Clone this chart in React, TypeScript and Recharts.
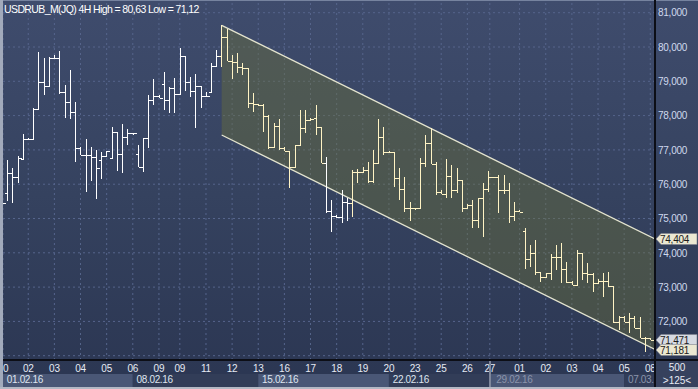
import { ComposedChart, Bar, Area, XAxis, YAxis, CartesianGrid } from "recharts";

// 4H OHLC bars (index 0 = first bar on the left)
const opens = [
  75.45, 75.74, 76.32, 76.22, 76.73, 77.31, 77.31, 78.18, 78.99, 78.87,
  79.67, 79.69, 78.68, 78.39, 78.1, 77.07, 76.85, 76.85, 76.79, 76.71,
  76.82, 76.76, 77.51, 76.88, 77.39, 77.48, 76.88, 76.49, 77.34, 78.45,
  78.57, 78.92, 78.45, 78.81, 78.62, 79.74, 78.97, 78.73, 78.86, 78.58,
  78.68, 79.45, 79.74, 80.28, 79.6, 79.56, 79.43, 79.4, 78.36, 78.34,
  78.32, 77.99, 77.08, 77.7, 77.06, 76.97, 76.51, 77.14, 77.63, 77.87,
  77.92, 77.68, 76.63, 75.23, 75.07, 75.04, 75.49, 75.46, 76.35, 76.35,
  76.41, 76.1, 76.63, 77.37, 76.95, 76.95, 76.17, 75.85, 75.3, 75.3,
  75.3, 76.61, 77.19, 76.59, 75.78, 75.71, 76.24, 75.83, 76.12, 75.3,
  75.39, 74.96, 75.59, 75.85, 76.2, 76.2, 75.83, 75.82, 75.07, 75.23,
  74.64, 73.81, 74.0, 73.45, 73.3, 73.4, 73.89, 73.87, 73.52, 73.16,
  73.06, 73.99, 73.4, 73.37, 73.13, 73.18, 73.18, 73.03, 71.97, 72.14,
  71.99, 72.1, 71.8, 71.53, 71.52,
];
const highs = [
  75.57, 76.71, 76.47, 76.82, 77.46, 77.35, 78.22, 79.86, 79.68, 79.72,
  79.77, 79.88, 78.89, 79.33, 78.4, 77.09, 77.32, 77.09, 77.0, 76.95,
  76.97, 77.68, 77.52, 77.76, 77.6, 77.5, 77.14, 77.34, 78.6, 79.06,
  78.6, 79.28, 78.84, 79.09, 79.96, 79.74, 79.12, 79.21, 78.86, 78.7,
  79.54, 79.91, 80.63, 80.52, 79.77, 79.82, 79.54, 79.4, 78.67, 78.35,
  78.34, 78.02, 77.78, 77.89, 77.09, 76.97, 77.14, 78.16, 78.16, 77.92,
  78.31, 77.68, 76.8, 75.54, 75.1, 75.83, 75.6, 76.41, 76.44, 76.51,
  76.66, 77.0, 77.9, 77.66, 76.97, 76.95, 76.46, 76.22, 75.49, 75.32,
  76.76, 77.43, 77.63, 76.65, 75.83, 76.73, 76.56, 76.46, 76.12, 75.42,
  75.55, 75.59, 76.03, 76.39, 76.22, 76.27, 76.27, 76.03, 75.49, 75.26,
  74.72, 74.23, 74.37, 73.45, 73.41, 73.97, 74.23, 74.28, 73.74, 73.18,
  74.08, 74.0, 73.69, 73.4, 73.24, 73.42, 73.45, 73.03, 72.16, 72.16,
  72.25, 72.16, 72.14, 71.56, 71.53,
];
const lows = [
  75.37, 75.52, 75.45, 76.04, 76.71, 77.29, 77.3, 78.18, 78.6, 78.86,
  79.66, 78.62, 77.92, 77.89, 76.66, 76.85, 75.78, 76.09, 75.56, 76.15,
  76.82, 76.75, 76.39, 76.33, 77.14, 77.43, 76.49, 76.37, 77.05, 78.31,
  78.5, 78.16, 78.07, 78.07, 78.6, 78.73, 78.55, 77.63, 78.21, 78.58,
  78.67, 79.43, 79.43, 79.6, 79.06, 79.23, 79.18, 78.21, 78.11, 78.29,
  77.51, 77.03, 77.05, 77.0, 76.97, 75.9, 76.51, 77.14, 77.48, 77.86,
  77.43, 76.61, 75.15, 74.62, 75.01, 74.88, 74.93, 75.05, 76.03, 76.32,
  76.03, 76.03, 76.63, 76.85, 76.92, 75.93, 75.54, 75.2, 74.94, 75.26,
  75.3, 76.51, 76.59, 75.69, 75.71, 75.59, 75.59, 75.74, 75.2, 75.28,
  74.72, 74.72, 74.47, 75.78, 76.18, 75.17, 75.7, 74.86, 74.93, 75.19,
  73.52, 73.6, 73.35, 73.16, 73.3, 73.21, 73.5, 73.13, 73.13, 73.06,
  73.06, 73.21, 73.11, 72.87, 73.12, 72.72, 73.01, 71.95, 71.75, 71.98,
  71.66, 71.8, 71.51, 71.12, 71.47,
];
const closes = [
  75.45, 76.32, 76.22, 76.76, 77.31, 77.31, 78.18, 78.99, 78.87, 79.67,
  79.69, 78.68, 78.39, 78.11, 77.07, 76.85, 76.85, 76.79, 76.46, 76.82,
  76.97, 77.51, 76.88, 77.39, 77.48, 77.48, 76.49, 77.34, 78.45, 78.57,
  78.52, 78.45, 78.81, 78.62, 79.74, 78.97, 78.73, 78.86, 78.58, 78.58,
  79.45, 79.74, 80.28, 79.6, 79.56, 79.43, 79.4, 78.36, 78.34, 78.32,
  77.99, 77.08, 77.7, 77.06, 76.97, 76.51, 77.14, 77.63, 77.87, 77.9,
  77.68, 76.63, 75.23, 75.07, 75.04, 75.49, 75.46, 76.35, 76.35, 76.41,
  76.1, 76.63, 77.37, 76.95, 76.95, 76.17, 75.85, 75.3, 75.3, 75.3,
  76.61, 77.19, 76.59, 75.78, 75.71, 76.24, 75.83, 76.12, 75.3, 75.39,
  74.96, 75.59, 75.85, 76.2, 76.2, 75.83, 75.82, 75.07, 75.23, 75.2,
  73.81, 74.0, 73.45, 73.3, 73.4, 73.89, 73.87, 73.52, 73.16, 73.06,
  73.99, 73.4, 73.37, 73.13, 73.18, 73.18, 73.03, 71.97, 72.14, 71.99,
  72.1, 71.8, 71.53, 71.52, 71.471,
];

// bottom scale: day labels and week boxes (positions are bar indexes)
const dayTicks = [0.17, 5, 10, 15, 20, 25, 30, 34, 39, 44, 49, 54, 59, 64, 69, 74, 79, 84, 89, 93.3, 99, 104, 109, 114, 119, 124];
const dayLabels = ["0", "02", "03", "04", "05", "06", "09", "09", "11", "12", "13", "16", "17", "18", "19", "20", "23", "25", "26", "27", "01", "02", "03", "04", "05", "08"];
const weekTicks = [0.17, 25, 49, 74, 93.3, 119];
const weekLabels = ["01.02.16", "08.02.16", "15.02.16", "22.02.16", "29.02.16", "07.03."];

const priceTicks = [71, 72, 73, 74, 75, 76, 77, 78, 79, 80, 81];

// regression channel: anchor bar index, upper and lower edge values
const chanX = [42, 124.9];
const chanUpper = [80.63, 74.404];
const chanLower = [77.435, 71.181];

const XMIN = 0.17;
const XMAX = 124.9;
const YMIN = 70.875;
const YMAX = 81.283;
const PLOT_LEFT = 3;
const PLOT_RIGHT = 655;
const PX_PER_BAR = (PLOT_RIGHT - PLOT_LEFT) / (XMAX - XMIN);

const FONT = "'Liberation Sans', Arial, sans-serif";
const BAR_OUT = "#ffffff";
const BAR_IN = "#fff3c4";

const chanAt = (edge: number[], i: number) =>
  edge[0] + ((edge[1] - edge[0]) * (i - chanX[0])) / (chanX[1] - chanX[0]);

const rows = opens.map((o, i) => {
  const c = closes[i];
  const inChannel = i >= chanX[0] && c <= chanAt(chanUpper, i) + 0.02 && c >= chanAt(chanLower, i);
  return { i, o, h: highs[i], l: lows[i], c, inChannel };
});

const channelRows = [
  { i: chanX[0], band: [chanLower[0], chanUpper[0]] },
  { i: chanX[1], band: [chanLower[1], chanUpper[1]] },
];

// price labels on the right edge: channel ends and last close
const markerTicks = [chanUpper[1], closes[closes.length - 1], chanLower[1]];
const axisTicks = [...priceTicks, ...markerTicks];

const fmt3 = (v: number) => v.toFixed(3).replace(".", ",");
const fmt2 = (v: number) => v.toFixed(2).replace(".", ",");
const title = `USDRUB_M(JQ) 4H High = ${fmt2(Math.max(...highs))} Low = ${fmt2(Math.min(...lows))}`;

const OhlcShape = (props: any) => {
  const { x, y, width, height, payload } = props;
  if (x == null || y == null || !payload) return null;
  const top = Math.min(y, y + height);
  const bot = Math.max(y, y + height);
  const span = payload.h - payload.l;
  const at = (v: number) => (span > 0 ? top + ((payload.h - v) / span) * (bot - top) : top);
  const cx = Math.round(x + width / 2) + 0.5;
  const yo = Math.round(at(payload.o)) + 0.5;
  const yc = Math.round(at(payload.c)) + 0.5;
  const y1 = Math.round(top);
  const y2 = Math.max(Math.round(bot), y1 + 1);
  return (
    <g stroke={payload.inChannel ? BAR_IN : BAR_OUT} strokeWidth={1} shapeRendering="crispEdges">
      <line x1={cx} x2={cx} y1={y1} y2={y2} />
      <line x1={cx - 3} x2={cx} y1={yo} y2={yo} />
      <line x1={cx} x2={cx + 3} y1={yc} y2={yc} />
    </g>
  );
};

const PriceTick = (props: any) => {
  const { y, payload } = props;
  const k = markerTicks.indexOf(payload.value);
  if (k < 0) {
    // a price label sitting under one of the marker boxes is hidden by it
    if (markerTicks.some((m) => Math.abs(m - payload.value) < 0.25)) return <g />;
    return (
      <text x={PLOT_RIGHT + 3} y={y + 3.7} fontSize={10} letterSpacing={-0.25} fill="#cfd9ee" fontFamily={FONT}>
        {fmt3(payload.value)}
      </text>
    );
  }
  const yy = Math.round(y);
  const fill = k === 1 ? "#d6dae2" : "#ebe8d2";
  const l = PLOT_RIGHT + 1;
  return (
    <g>
      <polygon
        points={`${l},${yy} ${l + 5},${yy - 5.5} 697,${yy - 5.5} 697,${yy + 5.5} ${l + 5},${yy + 5.5}`}
        fill={fill}
        stroke="#7d828e"
        strokeWidth={0.6}
      />
      <text x={PLOT_RIGHT + 5} y={yy + 3.7} fontSize={10} letterSpacing={-0.25} fill="#1b1b1b" fontFamily={FONT}>
        {fmt3(payload.value)}
      </text>
    </g>
  );
};

const DayTick = (props: any) => {
  const { x, payload } = props;
  const k = dayTicks.indexOf(payload.value);
  const first = k === 0;
  return (
    <text
      x={first ? PLOT_LEFT : x}
      y={371.8}
      textAnchor={first ? "start" : "middle"}
      fontSize={10}
      letterSpacing={-0.2}
      fill="#e6eaf3"
      fontFamily={FONT}
    >
      {dayLabels[k]}
    </text>
  );
};

const WeekTick = (props: any) => {
  const { x, payload } = props;
  const k = weekTicks.indexOf(payload.value);
  const next = k < weekTicks.length - 1 ? weekTicks[k + 1] : XMAX;
  const w = (next - payload.value) * PX_PER_BAR;
  const dim = k >= 4;
  return (
    <g>
      <rect x={x} y={374} width={w} height={13} fill={k % 2 === 0 ? "#4a5776" : "#323d58"} />
      <text
        x={x + (k === 4 ? 6.5 : 3.8)}
        y={382.8}
        fontSize={10}
        letterSpacing={-0.35}
        fill={dim ? "#8a94ab" : "#dfe5f0"}
        fontFamily={FONT}
      >
        {weekLabels[k]}
      </text>
    </g>
  );
};

export default function App() {
  return (
    <div
      style={{
        position: "absolute",
        left: 0,
        top: 0,
        width: 698,
        height: 389,
        overflow: "hidden",
        background: "linear-gradient(180deg, #3f4c6d 0%, #35425f 50%, #2b3652 100%)",
        fontFamily: FONT,
      }}
    >
      <ComposedChart width={698} height={389} data={rows} margin={{ top: 3, right: 0, bottom: 0, left: 3 }}>
        <CartesianGrid xAxisId={0} yAxisId={0} horizontalValues={priceTicks} stroke="#56658c" strokeDasharray="2 3" />
        <XAxis
          xAxisId={0}
          dataKey="i"
          type="number"
          domain={[XMIN, XMAX]}
          allowDataOverflow
          ticks={dayTicks}
          interval={0}
          height={14}
          axisLine={false}
          tickLine={false}
          tick={DayTick}
        />
        <XAxis
          xAxisId="w"
          dataKey="i"
          type="number"
          domain={[XMIN, XMAX]}
          allowDataOverflow
          ticks={weekTicks}
          interval={0}
          height={15}
          axisLine={false}
          tickLine={false}
          tick={WeekTick}
        />
        <YAxis
          yAxisId={0}
          orientation="right"
          type="number"
          domain={[YMIN, YMAX]}
          allowDataOverflow
          ticks={axisTicks}
          interval={0}
          width={43}
          axisLine={false}
          tickLine={false}
          tick={PriceTick}
        />
        <Area
          data={channelRows}
          dataKey="band"
          type="linear"
          stroke="#e4e4cf"
          strokeWidth={1.3}
          fill="#6f7238"
          fillOpacity={0.4}
          dot={false}
          activeDot={false}
          isAnimationActive={false}
        />
        <Bar dataKey={(d: any) => [d.l, d.h]} barSize={6} shape={OhlcShape} isAnimationActive={false} />
      </ComposedChart>

      <svg width={698} height={389} style={{ position: "absolute", left: 0, top: 0, pointerEvents: "none" }}>
        <rect x={0} y={0} width={698} height={1} fill="#76839f" />
        <rect x={0} y={0} width={3} height={389} fill="#a2aabb" />
        <rect x={0} y={387} width={698} height={2} fill="#b3b8c4" />
        <rect x={656} y={361} width={42} height={26} fill="#36415d" />
        <rect x={3} y={359} width={695} height={2} fill="#0c0e16" />
        <rect x={654} y={0} width={2} height={387} fill="#0c0e16" />
        <rect x={489} y={361} width={2} height={26} fill="#7f879b" />
        <text x={4} y={12.5} fontSize={10.5} letterSpacing={-0.6} fill="#ffffff" fontFamily={FONT}>
          {title}
        </text>
        <text x={677} y={370.5} textAnchor="middle" fontSize={10} fill="#e6eaf3" fontFamily={FONT}>
          500
        </text>
        <text x={677} y={383.5} textAnchor="middle" fontSize={10} fill="#e6eaf3" fontFamily={FONT}>
          {">125<"}
        </text>
      </svg>
    </div>
  );
}
